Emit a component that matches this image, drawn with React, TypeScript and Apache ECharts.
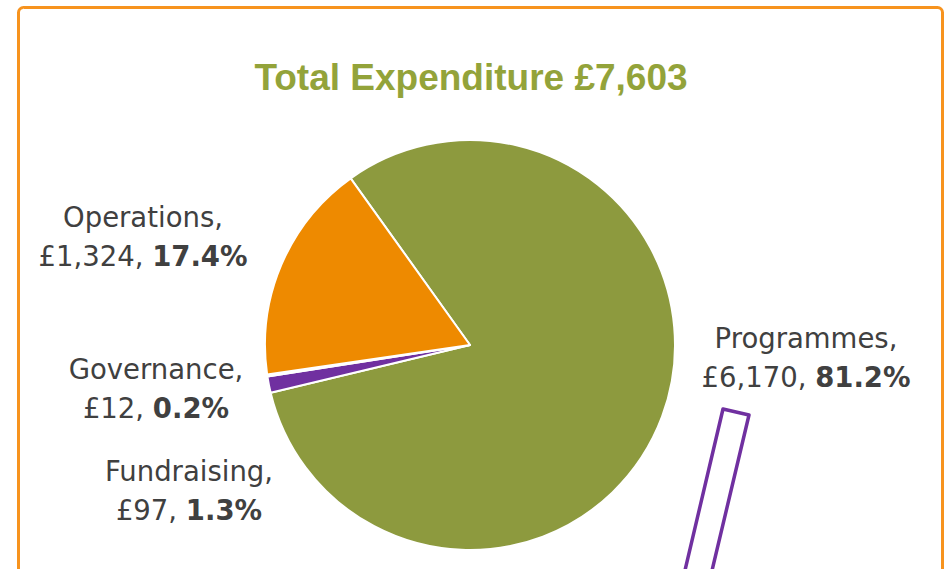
import React, { useEffect, useRef } from "react";
import * as echarts from "echarts";

const categories = ["Programmes", "Fundraising", "Governance", "Operations"];
const values = [6170, 97, 12, 1324];
const colors = ["#8D9A3E", "#7030A0", "#D9D9D9", "#EE8A00"];
const titleText = "Total Expenditure £7,603";

const labelPos: Record<string, [number, number]> = {
  Programmes: [806, 357],
  Fundraising: [189, 490],
  Governance: [156, 388],
  Operations: [143, 236],
};

export default function App() {
  const ref = useRef<HTMLDivElement>(null);
  useEffect(() => {
    if (!ref.current) return;
    const chart = echarts.init(ref.current, undefined, { renderer: "svg" });
    const total = values.reduce((a, b) => a + b, 0);
    const data = categories.map((c, i) => ({
      name: c,
      value: values[i],
      itemStyle: { color: colors[i] },
    }));
    const font = "DejaVu Sans, sans-serif";
    const fs = 27.5;
    const lh = 39;
    chart.setOption({
      animation: false,
      backgroundColor: "#ffffff",
      title: {
        text: titleText,
        left: 466,
        top: 54,
        textAlign: "center",
        textStyle: {
          fontFamily: "Liberation Sans, Arial, sans-serif",
          fontWeight: "bold",
          fontSize: 37,
          color: "#93A33A",
        },
      },
      graphic: [
        {
          type: "rect",
          shape: { x: 18.5, y: 7.5, width: 924, height: 620, r: 5 },
          style: { fill: "none", stroke: "#F7931E", lineWidth: 3 },
          silent: true,
        },
        {
          type: "polygon",
          shape: {
            points: [
              [723, 409],
              [749, 415],
              [705, 600],
              [678, 600],
            ],
          },
          style: { fill: "#ffffff", stroke: "#7030A0", lineWidth: 3.5, lineJoin: "round" },
          silent: true,
          z: 10,
        },
      ],
      series: [
        {
          type: "pie",
          center: [470, 345],
          radius: [0, 205],
          startAngle: 125.6,
          clockwise: true,
          data,
          itemStyle: { borderColor: "#ffffff", borderWidth: 2 },
          labelLine: { show: false },
          label: {
            show: true,
            position: "outside",
            align: "center",
            formatter: (p: any) => {
              const pct = ((p.value / total) * 100).toFixed(1);
              return `{n|${p.name},}\n{v|£${p.value.toLocaleString("en-GB")}, }{b|${pct}%}`;
            },
            rich: {
              n: { fontFamily: font, fontSize: fs, color: "#404040", lineHeight: lh, align: "center" },
              v: { fontFamily: font, fontSize: fs, color: "#404040", lineHeight: lh },
              b: { fontFamily: font, fontSize: fs, color: "#404040", lineHeight: lh, fontWeight: "bold" },
            },
          },
          labelLayout: (params: any) => {
            const name = categories[params.dataIndex];
            const [x, y] = labelPos[name];
            return { x, y, align: "center", verticalAlign: "middle", hideOverlap: false };
          },
        },
      ],
    });
    return () => chart.dispose();
  }, []);
  return (
    <div
      ref={ref}
      style={{ position: "fixed", left: 0, top: 0, width: 951, height: 569 }}
    />
  );
}
